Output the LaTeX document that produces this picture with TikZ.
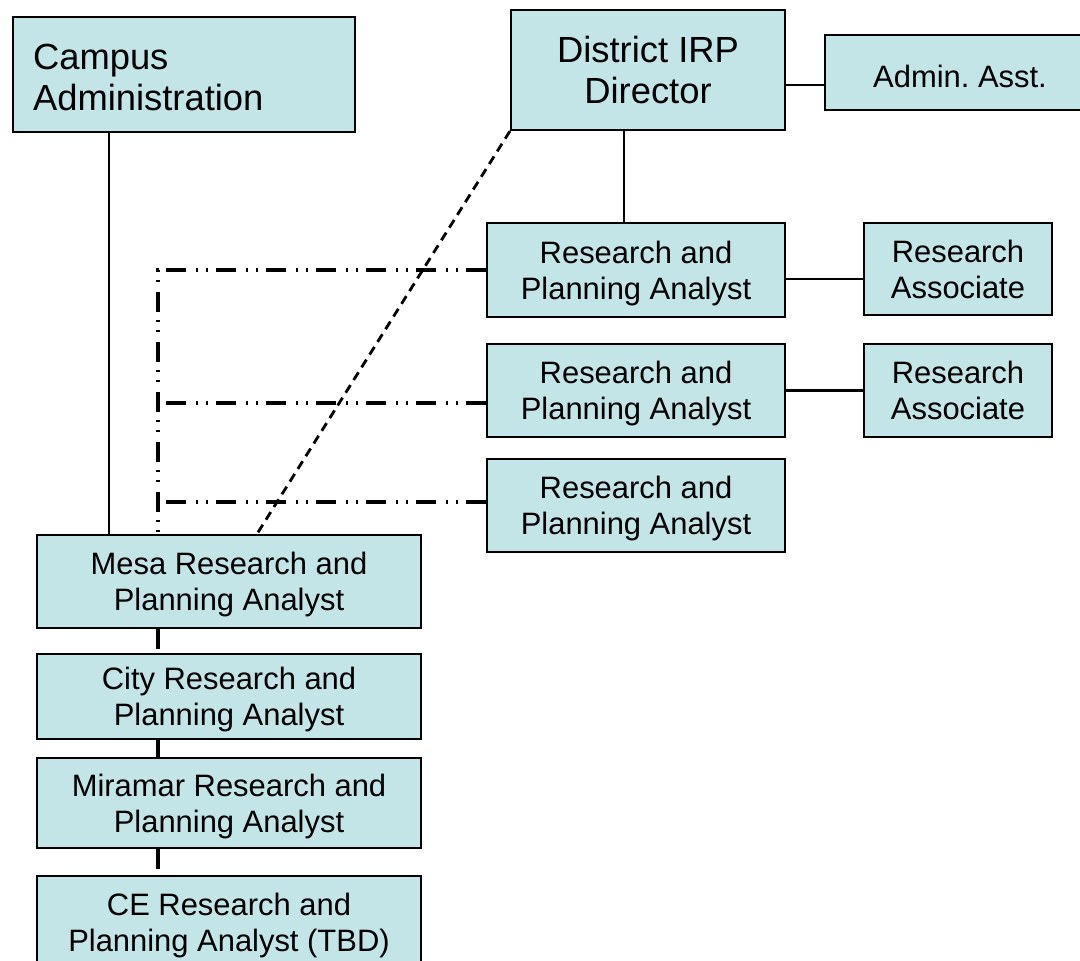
\documentclass[tikz,border=0pt]{standalone}
\usepackage{fontspec}
\setmainfont{Liberation Sans}
\usetikzlibrary{positioning}

\definecolor{boxfill}{RGB}{196,229,232}

\tikzset{
    box/.style = {draw, fill=boxfill, line width=1.2pt, align=center, text depth=0pt,
                  font=\fontsize{17.6}{20.5}\selectfont, inner sep=0pt},
    bigtext/.style = {font=\fontsize{20.7}{23.3}\selectfont},
    link/.style = {line width=1.3pt},
    dotlink/.style = {line width=1.9pt,
                      dash pattern=on 0.4cm off 0.16cm on 0.04cm off 0.16cm on 0.04cm off 0.2cm},
    dashlink/.style = {line width=1.6pt, dash pattern=on 0.18cm off 0.12cm}
}

\begin{document}
\begin{tikzpicture}[x = 0.02cm, y = -0.02cm]
    \useasboundingbox (0,0) rectangle (1080,961);
    \clip (0,0) rectangle (1080,961);
    % top row
    \node[box, bigtext, minimum width=6.84cm, minimum height=2.3cm, align=left, text width=6.04cm, text depth=20pt] (campus) at (184,74.5) {Campus\\Administration};
    \node[box, bigtext, minimum width=5.48cm, minimum height=2.4cm] (district) at (648,70) {District IRP\\Director};
    \node[box, minimum width=5.4cm, minimum height=1.5cm, text height=17pt] (admin) at (960,72.5) {Admin.\ Asst.};
    % district analysts
    \node[box, minimum width=5.96cm, minimum height=1.88cm] (rpa1) at (636,270) {Research and\\Planning Analyst};
    \node[box, minimum width=5.96cm, minimum height=1.86cm] (rpa2) at (636,390.5) {Research and\\Planning Analyst};
    \node[box, minimum width=5.96cm, minimum height=1.86cm] (rpa3) at (636,505.5) {Research and\\Planning Analyst};
    \node[box, minimum width=3.76cm, minimum height=1.84cm] (assoc1) at (958,269) {Research\\Associate};
    \node[box, minimum width=3.76cm, minimum height=1.86cm] (assoc2) at (958,390.5) {Research\\Associate};
    % campus analysts
    \node[box, minimum width=7.68cm, minimum height=1.86cm] (mesa) at (229,581.5) {Mesa Research and\\Planning Analyst};
    \node[box, minimum width=7.68cm, minimum height=1.7cm] (city) at (229,696.5) {City Research and\\Planning Analyst};
    \node[box, minimum width=7.68cm, minimum height=1.8cm] (miramar) at (229,803) {Miramar Research and\\Planning Analyst};
    \node[box, minimum width=7.68cm, minimum height=1.86cm] (ce) at (229,922.5) {CE Research and\\Planning Analyst (TBD)};

    \coordinate (trunk) at (109,0);
    \coordinate (spine) at (158,0);
    \coordinate (drop) at (624,0);
    \coordinate (adminrow) at (0,85);
    \coordinate (assocrow) at (0,279);
    \coordinate (row2) at (0,403);
    \coordinate (row3) at (0,502);

    \draw[link] (trunk |- campus.south) -- (trunk |- mesa.north);
    \draw[link] (drop |- district.south) -- (drop |- rpa1.north);
    \draw[link] (district.east |- adminrow) -- (admin.west |- adminrow);
    \draw[link] (rpa1.east |- assocrow) -- (assoc1.west |- assocrow);
    \draw[link] (rpa2.east) -- (assoc2.west);

    \draw[dotlink] (rpa1.west) -| (spine |- mesa.north);
    \draw[dotlink] (rpa2.west |- row2) -- (spine |- row2);
    \draw[dotlink] (rpa3.west |- row3) -- (spine |- row3);
    \draw[dotlink] (spine |- mesa.south) -- (spine |- city.north);
    \draw[dotlink] (spine |- city.south) -- (spine |- miramar.north);
    \draw[dotlink] (spine |- miramar.south) -- (spine |- ce.north);

    \draw[dashlink] (district.south west) -- ([xshift=0.56cm]mesa.north);
\end{tikzpicture}
\end{document}
